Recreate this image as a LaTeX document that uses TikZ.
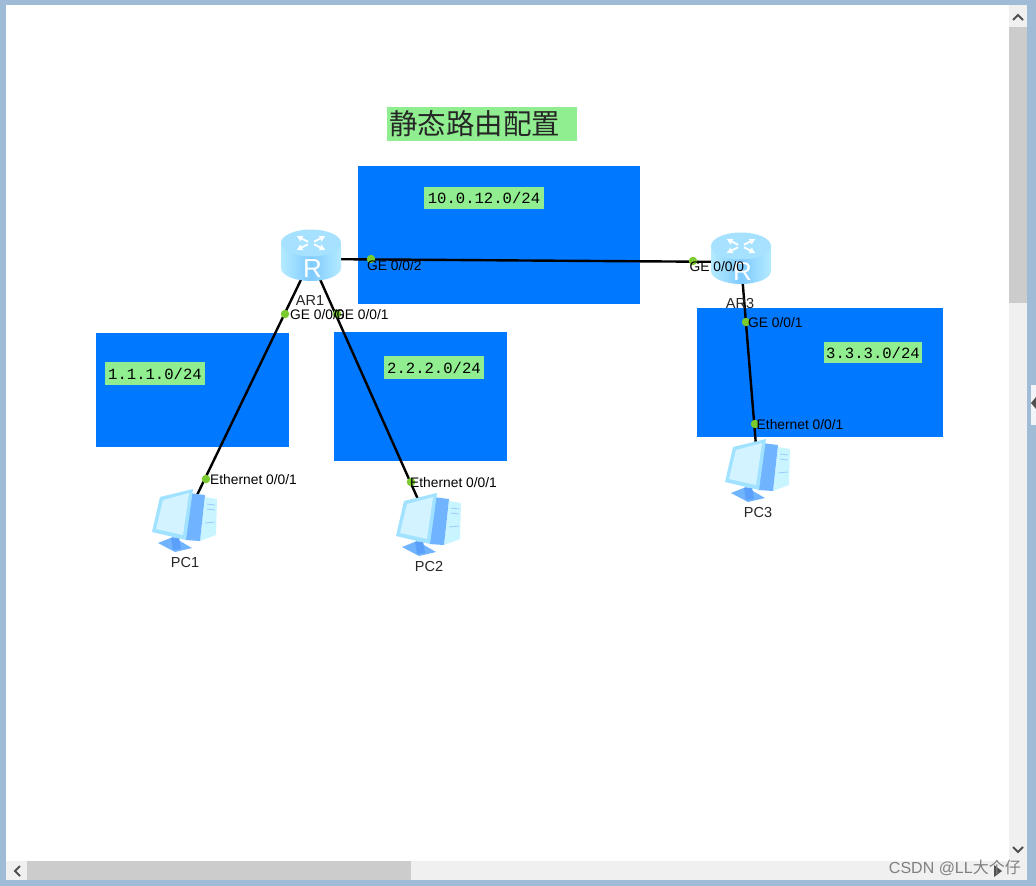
\documentclass[tikz,border=0pt]{standalone}
\usepackage{fontspec}
\setmainfont{Liberation Sans}
\setmonofont{Liberation Mono}
\newfontfamily\cjkfont{Noto Sans CJK SC}
\usetikzlibrary{arrows.meta}
\definecolor{netblue}{HTML}{0078FF}
\definecolor{labgreen}{HTML}{90EE90}
\definecolor{portgreen}{HTML}{7CCB2E}
\definecolor{framec}{HTML}{9FBBD5}
\definecolor{trackc}{HTML}{F0F0F0}
\definecolor{thumbc}{HTML}{CCCCCC}
\definecolor{arrowc}{HTML}{505050}
\definecolor{rside}{HTML}{B4EAFF}
\definecolor{rmid}{HTML}{7FCBFF}
\definecolor{rtop}{HTML}{A6E2FF}
\definecolor{pcblue}{HTML}{70B4FF}
\definecolor{pcdark}{HTML}{5AA0FA}
\definecolor{pcpale}{HTML}{C8F5FF}
\definecolor{pcedge}{HTML}{A0E2FF}
\definecolor{pcscreen}{HTML}{D2F3FF}
\tikzset{
  x=1pt,y=-1pt,
  subnet/.style={fill=netblue,draw=none},
  nettag/.style={fill=labgreen,font=\ttfamily\fontsize{15.6}{16}\selectfont,inner sep=0pt,align=center},
  hub/.style={inner sep=0pt,minimum size=0pt,outer sep=0pt},
  link/.style={line width=2.4pt,black},
  port/.style={circle,fill=portgreen,inner sep=0pt,minimum size=8.5pt},
  portlabel/.style={font=\fontsize{13.8}{14}\selectfont,anchor=west,inner sep=0pt,text=black},
  devlabel/.style={font=\fontsize{14.5}{15}\selectfont,inner sep=0pt,text=black!85},
  chev/.style={line width=2pt,arrowc,line cap=butt},
  routericon/.pic={
    \path[left color=rside,right color=rside,middle color=rmid]
      (-30,-16) -- (-30,9) arc[x radius=30,y radius=13,start angle=180,end angle=0] -- (30,-16) -- cycle;
    \fill[rtop] (0,-16) ellipse[x radius=30,y radius=13.5];
    \foreach \a in {40,140,220,320}{
      \draw[white,line width=1.8pt,-{Latex[length=6pt,width=7pt]}]
        ({4*cos(\a)},{-16-2*sin(\a)}) -- ({19*cos(\a)},{-16-11*sin(\a)});
    }
    \node[inner sep=0pt,text=white,font=\fontsize{26}{26}\selectfont] at (1.5,10) {R};
  },
  pcicon/.pic={
    \fill[pcpale] (20,-23) -- (32,-21) -- (31,15) -- (15,21) -- cycle;
    \draw[pcblue!70!white,line width=.8pt] (22,-16) -- (30,-15) (22,-11) -- (30,-10) (20,3) -- (30,2);
    \fill[pcblue] (4,-27) -- (20,-25) -- (15,21) -- (0,20) -- cycle;
    \fill[pcblue] (-27,23) -- (-12,17) -- (7,28) -- (-10,32) -- cycle;
    \fill[pcdark] (-14,18) -- (-6,17) -- (-4,29) -- (-12,30) -- cycle;
    \fill[pcedge] (-33,12) -- (-25,-23) -- (8,-31) -- (1,20) -- cycle;
    \fill[pcscreen] (-29,9) -- (-22,-20) -- (4,-27) -- (-2,15) -- cycle;
  }
}
\begin{document}
\begin{tikzpicture}
\useasboundingbox (0,0) rectangle (1036,886);
% window
\fill[framec] (0,0) rectangle (1036,886);
\fill[white] (6,5) rectangle (1027,880);
% scrollbars
\fill[trackc] (1009,5) rectangle (1027,861);
\fill[thumbc] (1009,27) rectangle (1027,303);
\fill[trackc] (6,861) rectangle (1027,880);
\fill[thumbc] (27,861) rectangle (411,880);
\fill[white!85!framec] (1031,385) rectangle (1036,425);
\fill[arrowc] (1036,397) -- (1031,403) -- (1036,409) -- cycle;
\draw[chev] (1013,20) -- (1018,15) -- (1023,20);
\draw[chev] (1013,847) -- (1018,852) -- (1023,847);
\draw[chev] (20,866) -- (15,871) -- (20,876);
% subnets
\fill[subnet] (358,166) rectangle (640,304);
\fill[subnet] (96,333) rectangle (289,447);
\fill[subnet] (334,332) rectangle (507,461);
\fill[subnet] (697,308) rectangle (943,437);
% title and tags
\node[fill=labgreen,minimum width=190pt,minimum height=34pt,inner sep=0pt,anchor=center,text=black!85] (title) at (482,124)
  {\hspace*{-15pt}\cjkfont\fontsize{28.5}{30}\selectfont 静态路由配置};
\node[nettag,minimum width=120pt,minimum height=22pt] (net12) at (484,198) {10.0.12.0/24};
\node[nettag,minimum width=100pt,minimum height=23pt] (net1) at (155,373.5) {1.1.1.0/24};
\node[nettag,minimum width=100pt,minimum height=23pt] (net2) at (434,367.5) {2.2.2.0/24};
\node[nettag,minimum width=98pt,minimum height=21pt] (net3) at (873,352.5) {3.3.3.0/24};
% devices
\node[hub] (AR1) at (311,259) {};
\node[hub] (AR3) at (741,262) {};
\node[hub] (PC1) at (185,520) {};
\node[hub] (PC2) at (429,524) {};
\node[hub] (PC3) at (758,470) {};
% links
\draw[link] (AR1.center) -- (AR3.center);
\draw[link] (AR1.center) -- (PC1.center);
\draw[link] (AR1.center) -- (PC2.center);
\draw[link] (AR3.center) -- (PC3.center);
% icons
\pic at (AR1.center) {routericon};
\pic at (AR3.center) {routericon};
\pic at (PC1.center) {pcicon};
\pic at (PC2.center) {pcicon};
\pic at (PC3.center) {pcicon};
% device labels
\node[devlabel] (lAR1) at (310,301) {AR1};
\node[devlabel] (lAR3) at (740,304) {AR3};
\node[devlabel] (lPC1) at (185,563) {PC1};
\node[devlabel] (lPC2) at (429,567) {PC2};
\node[devlabel] (lPC3) at (758,513) {PC3};
% ports
\node[port] (p1) at (371,259) {};
\node[port] (p2) at (693,261) {};
\node[port] (p3) at (285,314) {};
\node[port] (p4) at (337,314) {};
\node[port] (p5) at (746,322) {};
\node[port] (p6) at (206,479) {};
\node[port] (p7) at (411,482) {};
\node[port] (p8) at (755,424) {};
\node[portlabel] (t1) at (367,266) {GE 0/0/2};
\node[portlabel] (t2) at (689.5,267) {GE 0/0/0};
\node[portlabel] (t3) at (290,315) {GE 0/0/0};
\node[portlabel] (t4) at (334,315) {GE 0/0/1};
\node[portlabel] (t5) at (748,323) {GE 0/0/1};
\node[portlabel] (t6) at (210,480) {Ethernet 0/0/1};
\node[portlabel] (t7) at (410,482.5) {Ethernet 0/0/1};
\node[portlabel] (t8) at (756.5,425) {Ethernet 0/0/1};
% watermark and end arrow
\fill[arrowc] (994,865) -- (1002,871) -- (994,877) -- cycle;
\node[anchor=east,inner sep=0pt,text=black!50,font=\fontsize{16}{16}\selectfont] (wm) at (1021,868) {CSDN @LL{\cjkfont 大个仔}};
\end{tikzpicture}
\end{document}
